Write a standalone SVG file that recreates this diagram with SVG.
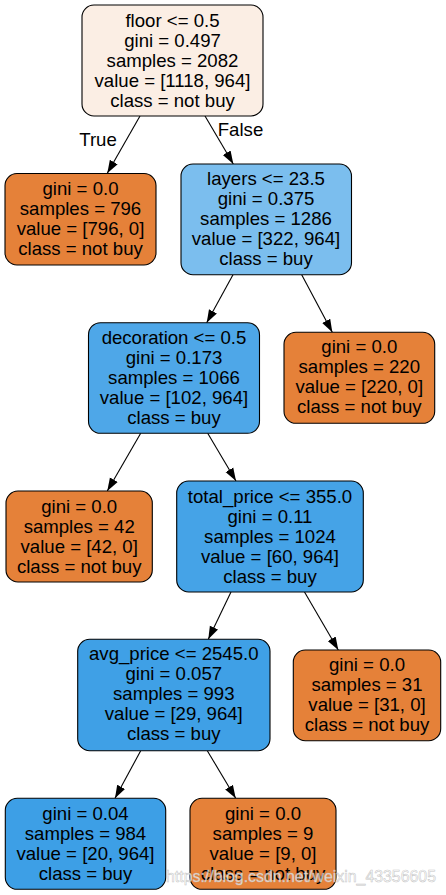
<svg xmlns="http://www.w3.org/2000/svg" width="446" height="895" viewBox="0 0 446 895">
<style>
.n rect{stroke:#000;stroke-width:1.1}
.n text,.lbl{font-family:"Liberation Sans",Arial,sans-serif;font-size:18.6px;fill:#000;text-anchor:middle}
.e line{stroke:#000;stroke-width:1.1;marker-end:url(#arr)}
.or{fill:#e58139}
.wm{font-family:"Liberation Sans",Arial,sans-serif;font-size:17px;fill:#ffffff;fill-opacity:0.75;stroke:#b8b8b8;stroke-width:0.6;stroke-opacity:0.8}
</style>
<defs>
<marker id="arr" markerUnits="userSpaceOnUse" markerWidth="14" markerHeight="10" refX="13" refY="5" orient="auto">
<path d="M0,0.5 L13,5 L0,9.5 z" fill="#000"/>
</marker>
</defs>
<rect width="446" height="895" fill="#fff"/>
<g id="edges" class="e">
<line x1="140" y1="116" x2="107.3" y2="173.3"/>
<line x1="205" y1="116" x2="233.3" y2="164"/>
<line x1="233" y1="274.7" x2="206.7" y2="322.7"/>
<line x1="301.7" y1="274.7" x2="332.3" y2="332.3"/>
<line x1="140.7" y1="433.3" x2="107.3" y2="491"/>
<line x1="207.7" y1="433.3" x2="236" y2="481"/>
<line x1="231" y1="592" x2="208.3" y2="639.3"/>
<line x1="304.5" y1="592" x2="338.3" y2="650"/>
<line x1="140.7" y1="750.7" x2="115" y2="798.3"/>
<line x1="207.3" y1="750.7" x2="235.7" y2="798.3"/>
<text class="lbl" x="98" y="146">True</text>
<text class="lbl" x="240.5" y="136">False</text>
</g>
<g id="node0" class="n">
<rect x="82" y="5" width="181" height="111" rx="12" fill="#fbeee4"/>
<text x="172.5" y="27">floor &lt;= 0.5</text>
<text x="172.5" y="47">gini = 0.497</text>
<text x="172.5" y="67">samples = 2082</text>
<text x="172.5" y="87">value = [1118, 964]</text>
<text x="172.5" y="107">class = not buy</text>
</g>
<g id="node1" class="n">
<rect x="5" y="173.5" width="151" height="91.5" rx="12" class="or"/>
<text x="80.5" y="195">gini = 0.0</text>
<text x="80.5" y="215">samples = 796</text>
<text x="80.5" y="235">value = [796, 0]</text>
<text x="80.5" y="255">class = not buy</text>
</g>
<g id="node2" class="n">
<rect x="181" y="164" width="170.5" height="110.7" rx="12" fill="#7bbeee"/>
<text x="266" y="185">layers &lt;= 23.5</text>
<text x="266" y="205">gini = 0.375</text>
<text x="266" y="225">samples = 1286</text>
<text x="266" y="245">value = [322, 964]</text>
<text x="266" y="265">class = buy</text>
</g>
<g id="node3" class="n">
<rect x="88.5" y="322.7" width="171" height="110.6" rx="12" fill="#4ea7e8"/>
<text x="174" y="344">decoration &lt;= 0.5</text>
<text x="174" y="364">gini = 0.173</text>
<text x="174" y="384">samples = 1066</text>
<text x="174" y="404">value = [102, 964]</text>
<text x="174" y="424">class = buy</text>
</g>
<g id="node4" class="n">
<rect x="284" y="332.3" width="150.7" height="91" rx="12" class="or"/>
<text x="359.3" y="353">gini = 0.0</text>
<text x="359.3" y="373">samples = 220</text>
<text x="359.3" y="393">value = [220, 0]</text>
<text x="359.3" y="413">class = not buy</text>
</g>
<g id="node5" class="n">
<rect x="6" y="491" width="146.3" height="91" rx="12" class="or"/>
<text x="79.2" y="512.5">gini = 0.0</text>
<text x="79.2" y="532.5">samples = 42</text>
<text x="79.2" y="552.5">value = [42, 0]</text>
<text x="79.2" y="572.5">class = not buy</text>
</g>
<g id="node6" class="n">
<rect x="176.7" y="481" width="186.6" height="111" rx="12" fill="#45a3e7"/>
<text x="270" y="502.5">total_price &lt;= 355.0</text>
<text x="270" y="522.5">gini = 0.11</text>
<text x="270" y="542.5">samples = 1024</text>
<text x="270" y="562.5">value = [60, 964]</text>
<text x="270" y="582.5">class = buy</text>
</g>
<g id="node7" class="n">
<rect x="77.7" y="639.3" width="192.3" height="111.4" rx="12" fill="#3fa0e6"/>
<text x="173.8" y="660">avg_price &lt;= 2545.0</text>
<text x="173.8" y="680">gini = 0.057</text>
<text x="173.8" y="700">samples = 993</text>
<text x="173.8" y="720">value = [29, 964]</text>
<text x="173.8" y="740">class = buy</text>
</g>
<g id="node8" class="n">
<rect x="293.3" y="650" width="147.4" height="90.7" rx="12" class="or"/>
<text x="367" y="670.5">gini = 0.0</text>
<text x="367" y="690.5">samples = 31</text>
<text x="367" y="710.5">value = [31, 0]</text>
<text x="367" y="730.5">class = not buy</text>
</g>
<g id="node9" class="n">
<rect x="5.3" y="798.3" width="160.4" height="91" rx="12" fill="#3d9fe6"/>
<text x="85.5" y="820">gini = 0.04</text>
<text x="85.5" y="840">samples = 984</text>
<text x="85.5" y="860">value = [20, 964]</text>
<text x="85.5" y="880">class = buy</text>
</g>
<g id="node10" class="n">
<rect x="190" y="798.3" width="146" height="91" rx="12" class="or"/>
<text x="263" y="820">gini = 0.0</text>
<text x="263" y="840">samples = 9</text>
<text x="263" y="860">value = [9, 0]</text>
<text x="263" y="880">class = not buy</text>
</g>
<text class="wm" x="166" y="882" textLength="270" lengthAdjust="spacingAndGlyphs">https://blog.csdn.net/weixin_43356605</text>
</svg>
